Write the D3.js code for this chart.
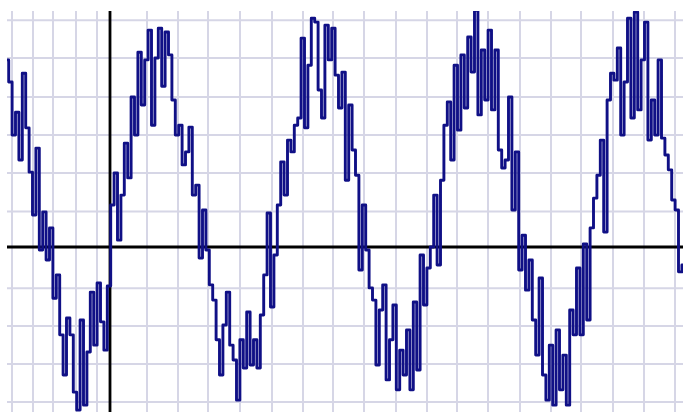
<!DOCTYPE html>
<html>
<head>
<meta charset="utf-8">
<script src="https://cdn.jsdelivr.net/npm/d3@7/dist/d3.min.js"></script>
<style>
  html, body { margin: 0; padding: 0; background: #ffffff; }
  svg { display: block; }
</style>
</head>
<body>
<svg id="chart" width="683" height="412"></svg>
<script>
// Sampled signal: a noisy sine wave, one reading per sample step.
const startTime = -103;     // time of the first sample
const sampleStep = 3.4;     // time between samples
const signal = [
  49.0, 43.2, 29.3, 35.3, 22.8, 45.5, 31.2, 19.6, 8.4, 25.9,
  -0.8, 9.2, -3.4, 5.0, -13.4, -7.3, -23.0, -33.5, -18.6, -23.0,
  -38.0, -42.7, -19.1, -41.4, -27.5, -11.8, -25.7, -9.4, -19.6, -27.0,
  -10.2, 11.0, 19.4, 1.8, 13.6, 27.2, 18.1, 39.3, 29.3, 51.0,
  37.2, 49.0, 56.8, 31.9, 49.5, 57.3, 42.1, 56.3, 50.3, 38.5,
  29.3, 31.9, 21.5, 24.9, 31.4, 13.6, 16.2, -2.9, 9.7, -0.8,
  -9.9, -13.9, -24.3, -33.5, -20.4, -11.8, -25.7, -29.6, -40.1, -24.3,
  -31.7, -17.0, -30.9, -24.3, -31.7, -17.8, -7.3, 8.9, -15.7, -2.1,
  11.0, 22.3, 13.6, 28.0, 24.9, 31.9, 33.8, 54.7, 31.2, 47.6,
  59.9, 58.9, 41.1, 33.8, 58.1, 49.0, 57.3, 45.0, 36.4, 45.8,
  17.5, 37.2, 25.4, 18.8, -6.0, 11.0, -0.8, -10.7, -13.9, -30.9,
  -16.5, -9.9, -34.8, -24.3, -15.2, -37.4, -27.0, -33.5, -21.7, -37.4,
  -14.4, -32.2, -2.1, -15.2, -5.5, 0.0, 13.6, -4.7, 17.5, 31.9,
  38.0, 22.8, 47.6, 30.6, 50.3, 36.4, 55.0, 45.8, 62.0, 34.6,
  51.6, 38.5, 56.8, 35.9, 51.6, 25.4, 20.7, 22.8, 39.3, 9.7,
  24.9, -6.0, 3.1, -11.3, -3.4, -19.1, -28.3, -8.1, -33.5, -40.1,
  -25.7, -41.4, -21.7, -37.4, -28.3, -41.4, -16.5, -23.0, -5.5, -23.0,
  0.8, -19.1, 5.0, 12.8, 18.8, 28.0, 3.9, 38.5, 45.5, 43.7,
  52.1, 29.3, 43.2, 59.9, 33.8, 61.5, 35.9, 49.0, 58.9, 28.0,
  38.5, 29.3, 49.0, 28.5, 24.1, 20.2, 12.3, 9.7, -6.5, -4.7
];

// Graph-paper rulings (time and amplitude values).
const gridTimes = [-98, -77, -57, -34, -13, 37, 68, 98, 130, 162, 193, 223,
                   254, 286, 317, 347, 378, 410, 441, 471, 503, 534, 565];
const gridLevels = [59.4, 49.5, 39.3, 29.3, 19.4, 9.3, -10.8, -20.7, -30.6, -40.6];

const width = 683, height = 412;
const plot = { left: 7, top: 11, right: 683, bottom: 412 };

const x = d3.scaleLinear().domain([-103, 573]).range([plot.left, plot.right]);
const y = d3.scaleLinear().domain([-43.2, 61.8]).range([plot.bottom, plot.top]);

const svg = d3.select("#chart");

svg.append("clipPath").attr("id", "plot-clip")
  .append("rect")
  .attr("x", plot.left).attr("y", plot.top)
  .attr("width", plot.right - plot.left).attr("height", plot.bottom - plot.top);

const grid = svg.append("g").attr("clip-path", "url(#plot-clip)");

grid.selectAll("line.gx").data(gridTimes).join("line")
  .attr("class", "gx")
  .attr("x1", d => x(d)).attr("x2", d => x(d))
  .attr("y1", plot.top).attr("y2", plot.bottom)
  .attr("stroke", "#d6d6e6").attr("stroke-width", 2);

grid.selectAll("line.gy").data(gridLevels).join("line")
  .attr("class", "gy")
  .attr("x1", plot.left).attr("x2", plot.right)
  .attr("y1", d => y(d)).attr("y2", d => y(d))
  .attr("stroke", "#d6d6e6").attr("stroke-width", 2);

// Axes through the origin
svg.append("line")
  .attr("x1", x(0)).attr("x2", x(0))
  .attr("y1", plot.top).attr("y2", plot.bottom)
  .attr("stroke", "#000").attr("stroke-width", 2.8);

svg.append("line")
  .attr("x1", plot.left).attr("x2", plot.right)
  .attr("y1", y(0)).attr("y2", y(0))
  .attr("stroke", "#000").attr("stroke-width", 2.8);

// The signal trace
const line = d3.line()
  .x((d, i) => x(startTime + i * sampleStep))
  .y(d => y(d))
  .curve(d3.curveStep);

svg.append("g").attr("clip-path", "url(#plot-clip)")
  .append("path")
  .datum(signal)
  .attr("d", line)
  .attr("fill", "none")
  .attr("stroke", "#101086")
  .attr("stroke-width", 2.9)
  .attr("stroke-linejoin", "round");
</script>
</body>
</html>
